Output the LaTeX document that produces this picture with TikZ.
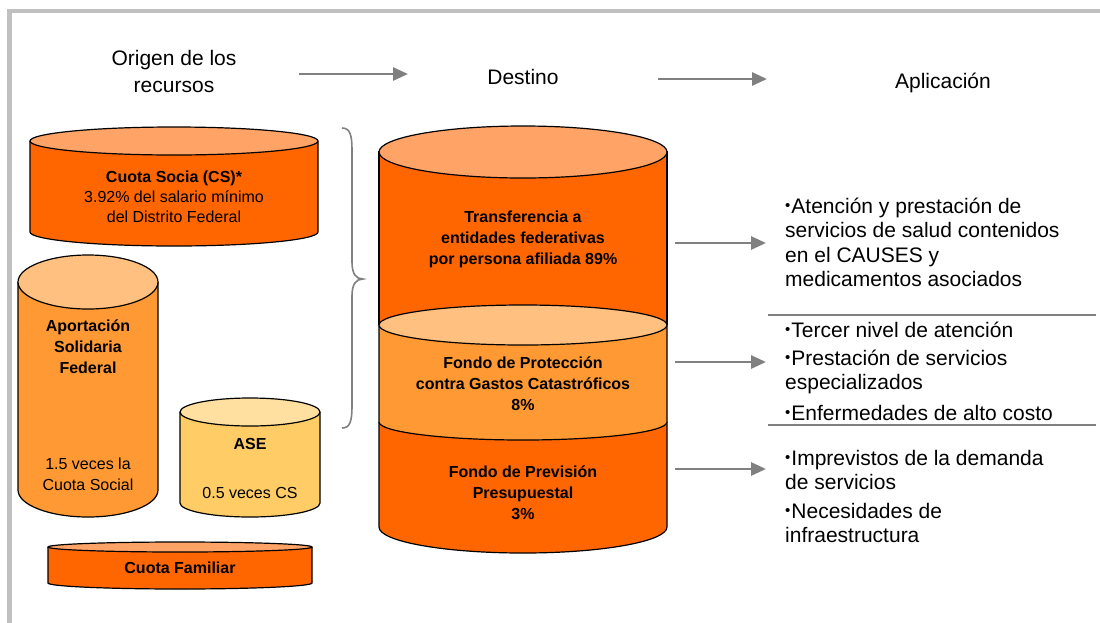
\documentclass[tikz,border=0pt]{standalone}
\usepackage{fontspec}
\setmainfont{Liberation Sans}
\usetikzlibrary{arrows.meta}
\definecolor{corange}{HTML}{FF6600}
\definecolor{csalmon}{HTML}{FFA366}
\definecolor{cmid}{HTML}{FF9933}
\definecolor{cmidtop}{HTML}{FFC080}
\definecolor{cyel}{HTML}{FFCC66}
\definecolor{cyeltop}{HTML}{FFE0A0}
\definecolor{cgray}{HTML}{808080}
\definecolor{cframe}{HTML}{C0C0C0}
\newcommand{\mycyl}[8]{%
  \filldraw[cylline, fill=#7] ({#1-#2},#3) -- ({#1-#2},#5)
     arc[start angle=180,end angle=360,x radius=#2pt,y radius=#6pt] -- ({#1+#2},#3);
  \filldraw[cylline, fill=#8] (#1,#3) ellipse[x radius=#2pt, y radius=#4pt];
}
\newcommand{\bul}{{\fontsize{15}{15}\selectfont\raisebox{2.2pt}{•}}\hspace{1pt}}
\begin{document}
\begin{tikzpicture}[x=1pt,y=-1pt,
  cylline/.style={draw=black, line width=1.2pt},
  lbl/.style={inner sep=0pt, anchor=base, font=\fontsize{16}{21}\selectfont},
  title/.style={inner sep=0pt, anchor=base, font=\fontsize{21}{27}\selectfont},
  apptext/.style={inner sep=0pt, anchor=base west, font=\fontsize{21}{24}\selectfont},
  flow/.style={draw=cgray, line width=2.8pt, -{Triangle[length=15pt,width=13pt]}},
  sepline/.style={draw=cgray, line width=1.8pt},
  bracestyle/.style={draw=cgray, line width=1.6pt}
]
\useasboundingbox (0,0) rectangle (1100,622);
% frame
\draw[draw=cframe, line width=4.5pt] (9.5,640) -- (9.5,11) -- (1120,11);

% titles
\node[title] (t1) at (174,65) {\begin{tabular}[t]{@{}c@{}}Origen de los\\recursos\end{tabular}};
\node[title] (t2) at (523,84) {Destino};
\node[title] (t3) at (943,88) {Aplicación};
\coordinate (a1s) at (299,74);
\coordinate (a1e) at (408,74);
\coordinate (a2s) at (658,79);
\coordinate (a2e) at (767,79);
\draw[flow] (a1s) -- (a1e);
\draw[flow] (a2s) -- (a2e);

% Cuota Socia
\mycyl{174}{144}{141}{14}{232}{14}{corange}{csalmon}
\node[lbl, font=\fontsize{16}{20}\selectfont] (cs) at (174,182) {\begin{tabular}[t]{@{}c@{}}\textbf{Cuota Socia (CS)*}\\3.92\% del salario mínimo\\del Distrito Federal\end{tabular}};

% Aportacion
\mycyl{88}{70}{282}{27}{490}{27}{cmid}{cmidtop}
\node[lbl] (asf) at (88,331) {\begin{tabular}[t]{@{}c@{}}\textbf{Aportación}\\\textbf{Solidaria}\\\textbf{Federal}\end{tabular}};
\node[lbl] (asfv) at (88,469) {\begin{tabular}[t]{@{}c@{}}1.5 veces la\\Cuota Social\end{tabular}};

% ASE
\mycyl{250}{70}{412}{14}{503}{14}{cyel}{cyeltop}
\node[lbl] (ase) at (250,449) {\textbf{ASE}};
\node[lbl] (asev) at (250,498) {0.5 veces CS};

% Cuota Familiar
\mycyl{180}{132}{547}{5}{583}{6}{corange}{csalmon}
\node[lbl] (cf) at (180,573) {\textbf{Cuota Familiar}};

% brace
\draw[bracestyle] (342,128) .. controls (350,128) and (352,135) .. (352,150) -- (352,262)
  .. controls (352,274) and (356,279) .. (363,279)
  .. controls (356,279) and (352,284) .. (352,296) -- (352,406)
  .. controls (352,421) and (350,428) .. (342,428);

% big cylinder
\filldraw[cylline, fill=corange] (379,325) -- (379,152) -- (667,152) -- (667,325);
\filldraw[cylline, fill=corange] (379,422) -- (379,527)
   arc[start angle=180,end angle=360,x radius=144pt,y radius=26pt] -- (667,422);
\filldraw[cylline, fill=cmid] (379,325) -- (379,422)
   arc[start angle=180,end angle=360,x radius=144pt,y radius=18pt] -- (667,325);
\filldraw[cylline, fill=cmidtop] (523,325) ellipse[x radius=144pt, y radius=20pt];
\filldraw[cylline, fill=csalmon] (523,152) ellipse[x radius=144pt, y radius=26pt];

\node[lbl] (d1) at (523,222) {\begin{tabular}[t]{@{}c@{}}\textbf{Transferencia a}\\\textbf{entidades federativas}\\\textbf{por persona afiliada 89\%}\end{tabular}};
\node[lbl] (d2) at (523,368) {\begin{tabular}[t]{@{}c@{}}\textbf{Fondo de Protección}\\\textbf{contra Gastos Catastróficos}\\\textbf{8\%}\end{tabular}};
\node[lbl] (d3) at (523,477) {\begin{tabular}[t]{@{}c@{}}\textbf{Fondo de Previsión}\\\textbf{Presupuestal}\\\textbf{3\%}\end{tabular}};

% application texts
\node[apptext] (p1) at (785,213) {\begin{tabular}[t]{@{}l@{}}\bul Atención y prestación de\\servicios de salud contenidos\\[1pt]en el CAUSES y\\medicamentos asociados\end{tabular}};
\node[apptext] (p2) at (785,337) {\begin{tabular}[t]{@{}l@{}}\bul Tercer nivel de atención\\[4pt]\bul Prestación de servicios\\especializados\\[7pt]\bul Enfermedades de alto costo\end{tabular}};
\node[apptext] (p3) at (785,465) {\begin{tabular}[t]{@{}l@{}}\bul Imprevistos de la demanda\\de servicios\\[5pt]\bul Necesidades de\\infraestructura\end{tabular}};

\coordinate (s1a) at (768,315);
\coordinate (s1b) at (1096,315);
\coordinate (s2a) at (768,425);
\coordinate (s2b) at (1096,425);
\draw[sepline] (s1a) -- (s1b);
\draw[sepline] (s2a) -- (s2b);

\coordinate (b1s) at (675,243);
\coordinate (b1e) at (766,243);
\coordinate (b2s) at (675,362);
\coordinate (b2e) at (766,362);
\coordinate (b3s) at (675,469);
\coordinate (b3e) at (766,469);
\draw[flow] (b1s) -- (b1e);
\draw[flow] (b2s) -- (b2e);
\draw[flow] (b3s) -- (b3e);
\end{tikzpicture}
\end{document}
